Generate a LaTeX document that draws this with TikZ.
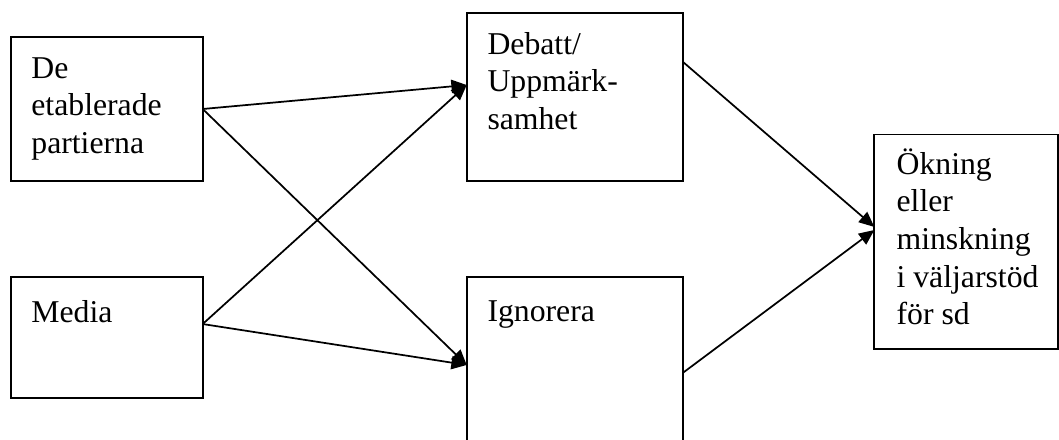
\documentclass[tikz,border=0pt]{standalone}
\usepackage{fontspec}
\setmainfont{Liberation Serif}
\usetikzlibrary{arrows.meta}
\newcommand{\bxtext}[1]{\parbox[t]{180pt}{\fontsize{23.8}{28.3}\selectfont #1}}
\tikzset{
  boxnode/.style={draw=black, line width=1.4pt, rectangle, inner sep=0pt, outer sep=0pt},
  txtnode/.style={anchor=base west, inner sep=0pt, outer sep=0pt, align=left},
  conn/.style={draw=black, line width=1.3pt, -{Triangle[length=11.5pt, width=10pt]}}
}
\begin{document}
\begin{tikzpicture}[x=0.75pt, y=-0.75pt]
\useasboundingbox[fill=white] (0,0) rectangle (1059,439);
% boxes
\node[boxnode, minimum width=144pt, minimum height=108pt] (a) at (106.7,109) {};
\node[boxnode, minimum width=144pt, minimum height=90.75pt] (b) at (106.7,337.5) {};
\node[boxnode, minimum width=162pt, minimum height=125.8pt] (c) at (574.7,97.15) {};
\node[boxnode, minimum width=162pt, minimum height=123.75pt] (d) at (574.7,359.5) {};
\node[boxnode, minimum width=137.8pt, minimum height=160.9pt] (e) at (966.2,241.75) {};
% texts
\node[txtnode] (at) at (31.4,78) {\bxtext{De\\etablerade\\partierna}};
\node[txtnode] (bt) at (31.4,322) {\bxtext{Media}};
\node[txtnode] (ct) at (487.5,54) {\bxtext{Debatt/\\Uppmärk-\\samhet}};
\node[txtnode] (dt) at (487.5,321) {\bxtext{Ignorera}};
\node[txtnode] (et) at (896.6,174) {\bxtext{Ökning\\eller\\minskning\\i väljarstöd\\för sd}};
% connectors
\draw[conn] (a.east) -- ([yshift=9.1pt]c.west);
\draw[conn] (a.east) -- ([yshift=-4.1pt]d.west);
\draw[conn] ([yshift=10.1pt]b.east) -- ([yshift=9.1pt]c.west);
\draw[conn] ([yshift=10.1pt]b.east) -- ([yshift=-4.1pt]d.west);
\draw[conn] ([yshift=26.6pt]c.east) -- ([yshift=11.1pt]e.west);
\draw[conn] ([yshift=-10.1pt]d.east) -- ([yshift=8.8pt]e.west);
\end{tikzpicture}
\end{document}
